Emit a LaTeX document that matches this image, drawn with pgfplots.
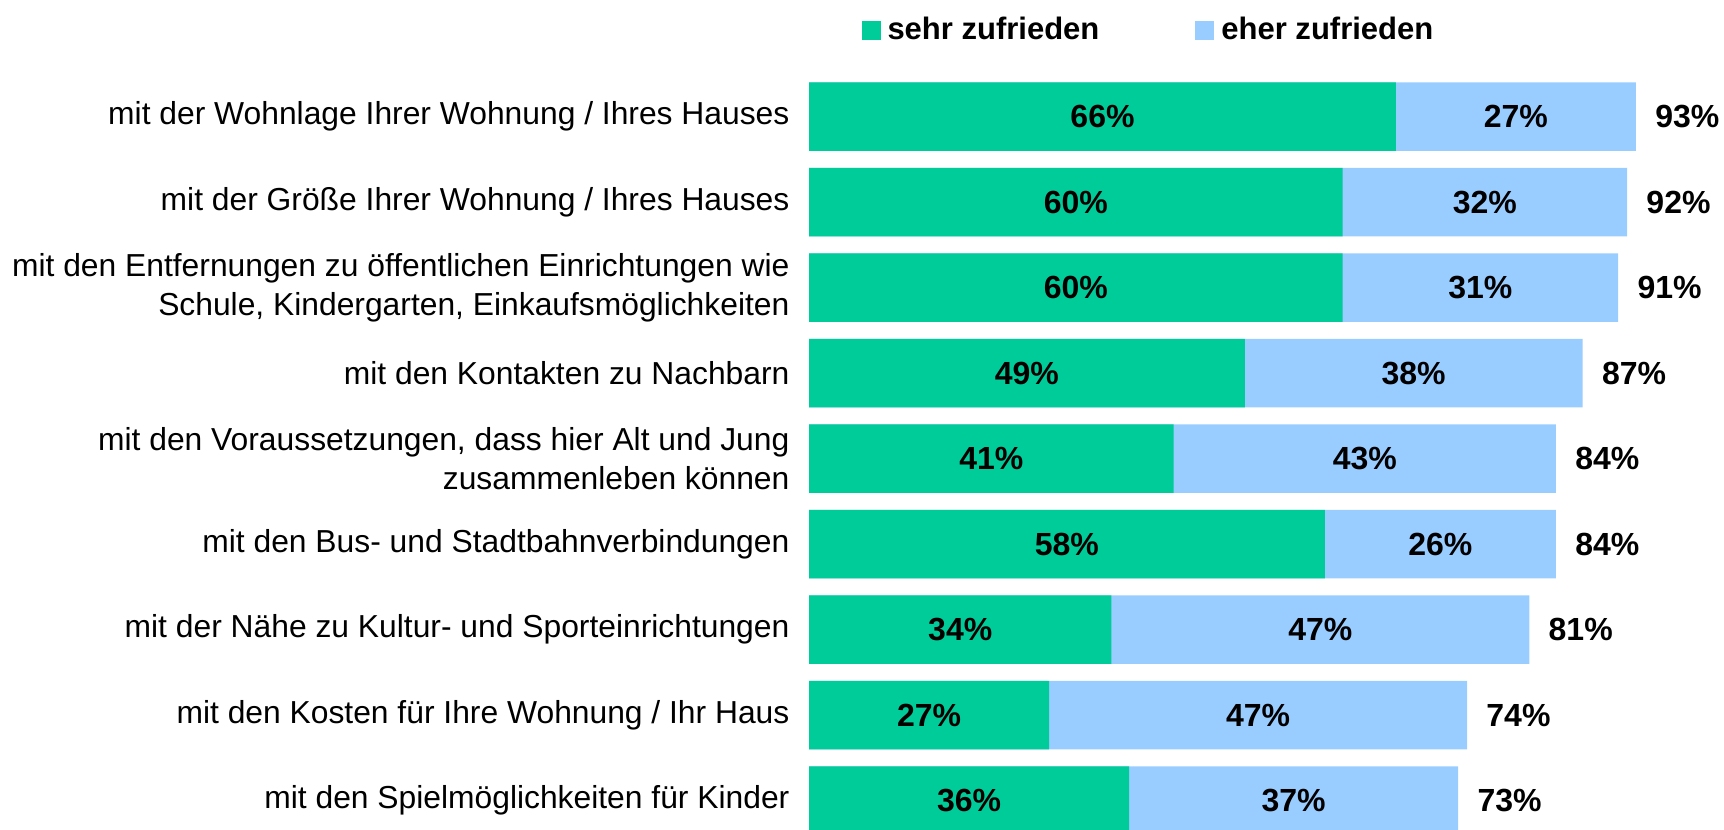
\documentclass[border=0pt]{standalone}
\usepackage{fontspec}
\setmainfont{Liberation Sans}
\usepackage{pgfplots}
\usepackage{pgfplotstable}
\pgfplotsset{compat=1.18}
\definecolor{gr}{HTML}{00CC99}
\definecolor{bl}{HTML}{99CCFF}

\pgfplotstableread{
idx g b t
0 66 27 93
1 60 32 92
2 60 31 91
3 49 38 87
4 41 43 84
5 58 26 84
6 34 47 81
7 27 47 74
8 36 37 73
}\data

\begin{document}
\begin{tikzpicture}
\begin{axis}[
  x=4.445pt, y=42.75pt,
  xmin=0, xmax=100, ymin=-0.5, ymax=8.5,
  y dir=reverse,
  clip=false,
  /pgf/number format/assume math mode=true,
  axis x line=none,
  axis y line=left,
  y axis line style={draw=none},
  ytick style={draw=none},
  ytick={0,...,8},
  yticklabels={
    {mit der Wohnlage Ihrer Wohnung / Ihres Hauses},
    {mit der Größe Ihrer Wohnung / Ihres Hauses},
    {mit den Entfernungen zu öffentlichen Einrichtungen wie\\Schule, Kindergarten, Einkaufsmöglichkeiten},
    {mit den Kontakten zu Nachbarn},
    {mit den Voraussetzungen, dass hier Alt und Jung\\zusammenleben können},
    {mit den Bus- und Stadtbahnverbindungen},
    {mit der Nähe zu Kultur- und Sporteinrichtungen},
    {mit den Kosten für Ihre Wohnung / Ihr Haus},
    {mit den Spielmöglichkeiten für Kinder}},
  yticklabel style={font=\fontsize{15.9}{19.25}\selectfont, align=right, inner sep=0pt, anchor=east, xshift=-7.5pt},
  legend style={at={(0.0585,1.0568)}, anchor=west, draw=none, fill=none, inner sep=0pt,
    font=\bfseries\fontsize{15.5}{19}\selectfont,
    /tikz/every even column/.append style={column sep=46pt}},
  legend columns=2,
  legend cell align=left,
  legend image code/.code={\fill[#1] (0pt,-4.75pt) rectangle (9.5pt,4.75pt); \path (11pt,0pt);},
]
\addlegendimage{fill=gr, draw=none}
\addlegendentry{sehr zufrieden}
\addlegendimage{fill=bl, draw=none}
\addlegendentry{eher zufrieden}

\addplot[xbar, bar width=34.2pt, bar shift=0pt, fill=bl, draw=none, forget plot]
  table[x=t, y=idx]{\data};
\addplot[xbar, bar width=34.2pt, bar shift=0pt, fill=gr, draw=none, forget plot]
  table[x=g, y=idx]{\data};

\addplot[draw=none, mark=none, forget plot, point meta=explicit,
  nodes near coords={\pgfmathprintnumber{\pgfplotspointmeta}\%},
  every node near coord/.style={anchor=center, inner sep=0pt, text=black, font=\bfseries\fontsize{16}{19}\selectfont}]
  table[x expr=\thisrow{g}/2, y=idx, meta=g]{\data};
\addplot[draw=none, mark=none, forget plot, point meta=explicit,
  nodes near coords={\pgfmathprintnumber{\pgfplotspointmeta}\%},
  every node near coord/.style={anchor=center, inner sep=0pt, text=black, font=\bfseries\fontsize{16}{19}\selectfont}]
  table[x expr=\thisrow{g}+\thisrow{b}/2, y=idx, meta=b]{\data};
\addplot[draw=none, mark=none, forget plot, point meta=explicit,
  nodes near coords={\pgfmathprintnumber{\pgfplotspointmeta}\%},
  every node near coord/.style={anchor=west, inner sep=0pt, xshift=9.5pt, text=black, font=\bfseries\fontsize{16}{19}\selectfont}]
  table[x=t, y=idx, meta=t]{\data};

\coordinate (BBtl) at (axis cs:-91.0,-1.363);
\coordinate (BBbr) at (axis cs:102.9,8.333);
\end{axis}
\pgfresetboundingbox
\useasboundingbox (BBtl) rectangle (BBbr);
\end{tikzpicture}
\end{document}
